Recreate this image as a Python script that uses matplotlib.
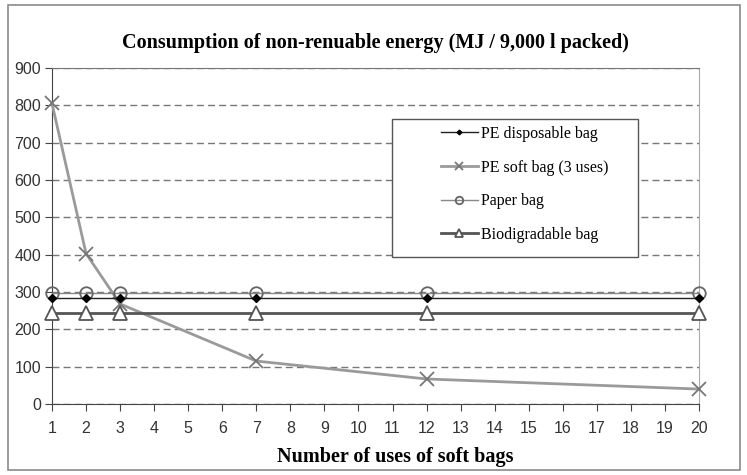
import matplotlib
matplotlib.use('Agg')
import matplotlib.pyplot as plt
from matplotlib.patches import Rectangle

# data
uses = [1, 2, 3, 7, 12, 20]
pe_disposable = [285, 285, 285, 285, 285, 285]
pe_soft = [805, 403, 268, 115, 67, 40]
paper = [297, 297, 297, 297, 297, 297]
biodeg = [245, 245, 245, 245, 245, 245]

x_ticks = list(range(1, 21))
y_ticks = list(range(0, 1000, 100))

W, H = 747, 475
fig = plt.figure(figsize=(W / 100, H / 100), dpi=100)
fig.patch.set_facecolor('white')

# outer frame of the chart area
fig.add_artist(Rectangle((8 / W, 5 / H), 732 / W, 465 / H, transform=fig.transFigure,
                         fill=False, edgecolor='#8a8a8a', linewidth=1.2))

ax = fig.add_axes([52 / W, (H - 404) / H, (699 - 52) / W, (404 - 68) / H])

ax.plot(uses, pe_disposable, color='#222222', lw=1.0, marker='D', ms=4,
        mfc='black', mec='black', label='PE disposable bag', zorder=4)
ax.plot(uses, pe_soft, color='#9a9a9a', lw=2.0, marker='x', ms=10, mew=1.3,
        mec='#777777', label='PE soft bag (3 uses)', zorder=3)
ax.plot(uses, paper, color='#888888', lw=1.0, marker='o', ms=9, mfc='none',
        mec='#666666', mew=1.3, label='Paper bag', zorder=3)
ax.plot(uses, biodeg, color='#555555', lw=2.0, marker='^', ms=10, mfc='white',
        mec='#555555', mew=1.3, label='Biodigradable bag', zorder=3)

ax.set_xlim(1, 20)
ax.set_ylim(0, 900)
ax.set_xticks(x_ticks)
ax.set_yticks(y_ticks)
ax.yaxis.grid(True, color='#777777', linestyle=(0, (5, 3)), linewidth=1.0)
ax.set_axisbelow(True)
for ln in ax.lines:
    ln.set_clip_on(False)

for side in ['left', 'bottom']:
    ax.spines[side].set_color('#444444')
ax.spines['top'].set_color('#777777')
ax.spines['right'].set_color('#aaaaaa')

ax.tick_params(axis='both', colors='#444444', labelcolor='#333333', labelsize=11.5,
               direction='out', length=5)
ax.tick_params(axis='x', pad=7)
ax.tick_params(axis='y', pad=3)
for lab in ax.get_xticklabels() + ax.get_yticklabels():
    lab.set_family('Liberation Sans')

# legend box (white, covers the grid) with the legend entries on top
ax.add_patch(Rectangle((392 / W, (H - 257) / H), (638 - 392) / W, (257 - 119) / H,
                       transform=fig.transFigure, facecolor='white',
                       edgecolor='#555555', linewidth=1.0, zorder=4.5, clip_on=False))
leg = ax.legend(loc='upper left', bbox_to_anchor=(441 / W, (H - 126) / H),
                bbox_transform=fig.transFigure, frameon=False,
                prop={'family': 'Liberation Serif', 'size': 11.5},
                handlelength=2.3, handletextpad=0.2, labelspacing=1.1,
                borderpad=0, borderaxespad=0, markerscale=0.6)
leg.set_zorder(5)

fig.text(375 / W, (H - 43) / H, 'Consumption of non-renuable energy (MJ / 9,000 l packed)',
         ha='center', va='center', family='Liberation Serif', weight='bold', size=14.5)
fig.text(395 / W, (H - 457) / H, 'Number of uses of soft bags',
         ha='center', va='center', family='Liberation Serif', weight='bold', size=14.5)

fig.savefig('out.png', dpi=100)
